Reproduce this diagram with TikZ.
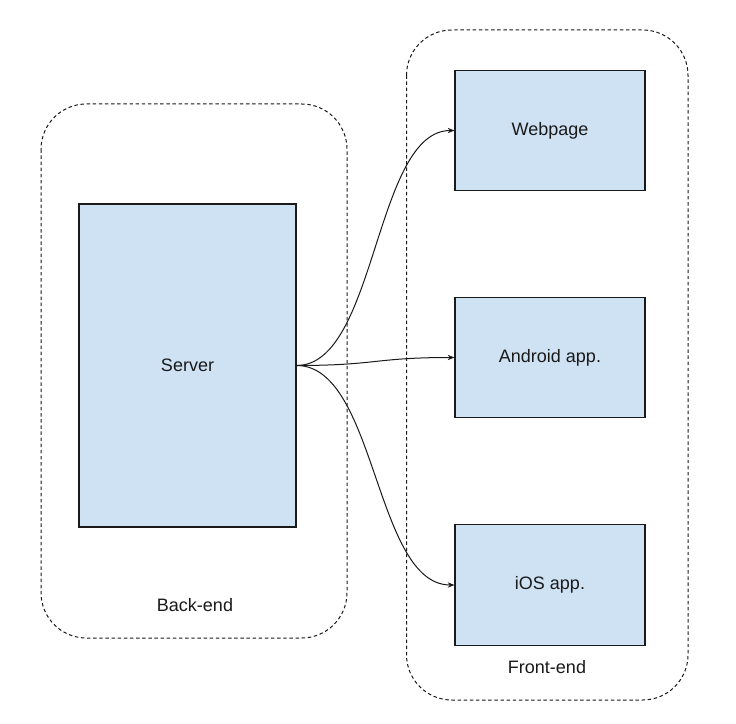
\documentclass[tikz,border=0pt]{standalone}
\usepackage{fontspec}
\setmainfont{Liberation Sans}
\usetikzlibrary{arrows.meta}
\definecolor{boxfill}{HTML}{CFE2F3}
\definecolor{ink}{HTML}{1A1A1A}
\begin{document}
\begin{tikzpicture}[x=0.75pt,y=-0.75pt,
  group/.style={draw=ink, line width=0.75pt, dash pattern=on 2.6pt off 2pt, rounded corners=34pt},
  block/.style={draw=ink, fill=boxfill, line width=0.9pt, inner sep=0pt, font=\fontsize{13.5}{16}\selectfont, text=ink},
  lbl/.style={font=\fontsize{13.5}{16}\selectfont, text=ink, inner sep=0pt},
  conn/.style={draw=ink, line width=0.75pt, -{Stealth[length=5pt,width=4pt]}}]
\useasboundingbox (0,0) rectangle (736,724);
\fill[white] (0,0) rectangle (736,724);
% groups
\draw[group] (41,104) rectangle (347,638);
\draw[group] (406.5,30) rectangle (688,700);
% blocks
\node[block, minimum width=217*0.75pt, minimum height=323*0.75pt] (server) at (187.5,365.5) {Server};
\node[block, minimum width=190*0.75pt, minimum height=120*0.75pt] (web) at (550,130.5) {Webpage};
\node[block, minimum width=190*0.75pt, minimum height=120*0.75pt] (android) at (550,357.5) {Android app.};
\node[block, minimum width=190*0.75pt, minimum height=121*0.75pt] (ios) at (550,585) {iOS app.};
% labels
\node[lbl] (be) at (195,605) {Back-end};
\node[lbl] (fe) at (547,667) {Front-end};
% connectors
\draw[conn] (server.east) to[out=0,in=180,distance=60pt] (web.west);
\draw[conn] (server.east) to[out=0,in=180,distance=60pt] (android.west);
\draw[conn] (server.east) to[out=0,in=180,distance=60pt] (ios.west);
\end{tikzpicture}
\end{document}
